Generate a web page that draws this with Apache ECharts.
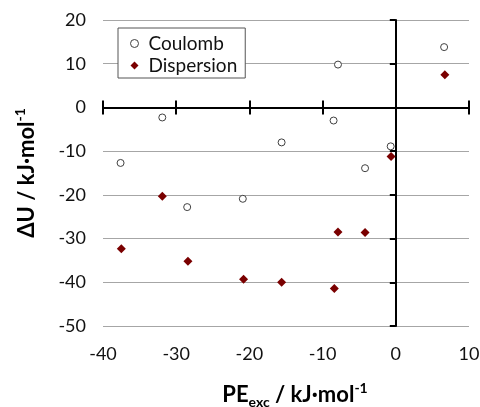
<!DOCTYPE html>
<html>
<head>
<meta charset="utf-8">
<script src="https://cdn.jsdelivr.net/npm/echarts@6/dist/echarts.min.js"></script>
<style>
  html, body { margin: 0; padding: 0; background: #fff; }
  #main { width: 480px; height: 407px; }
</style>
</head>
<body>
<div id="main"></div>
<script>
// PE_exc (x) and ΔU (y)
var coulombX = [-37.6, -31.9, -28.5, -20.9, -15.6, -8.5, -7.9, -4.2, -0.7, 6.6];
var coulombY = [-12.7, -2.3, -22.8, -20.9, -8.0, -3.0, 9.8, -13.9, -8.9, 13.8];
var dispersionX = [-37.5, -31.9, -28.4, -20.8, -15.6, -8.4, -7.9, -4.2, -0.65, 6.7];
var dispersionY = [-32.3, -20.3, -35.2, -39.3, -40.0, -41.4, -28.5, -28.6, -11.2, 7.5];

var xMin = -40, xMax = 10, yMin = -50, yMax = 20, step = 10;
var font = 'Lato';

function pairs(xs, ys) {
    return xs.map(function (x, i) { return [x, ys[i]] })
}

var chart = echarts.init(document.getElementById('main'))

// axis drawn through the origin, without labels (two of them give crossing ticks)
function zeroX(tickInside) {
    return {
        type: 'value', min: xMin, max: xMax, interval: step,
        axisLine: { show: true, onZero: true, onZeroAxisIndex: 0, lineStyle: { color: '#000', width: 2 } },
        axisTick: { show: true, interval: 0, inside: tickInside, length: 7, lineStyle: { color: '#000', width: 2 } },
        axisLabel: { show: false, interval: 0 },
        splitLine: { show: false }
    }
}

var option = {
    animation: false,
    backgroundColor: '#fff',
    grid: { left: 103, right: 11, top: 20, bottom: 81, outerBoundsMode: 'none' },
    legend: {
        orient: 'vertical',
        left: 118,
        top: 28,
        padding: [6, 8, 3, 12],
        itemGap: 3,
        itemWidth: 8,
        itemHeight: 8,
        backgroundColor: '#fff',
        borderColor: '#555',
        borderWidth: 1,
        borderRadius: 0,
        textStyle: { fontFamily: font, fontSize: 19, color: '#111', padding: [0, 0, 0, 5] },
        data: [
            { name: 'Coulomb', icon: 'circle', itemStyle: { color: '#fff', borderColor: '#404040', borderWidth: 1 } },
            { name: 'Dispersion', icon: 'diamond', itemStyle: { color: '#7a0000' } }
        ]
    },
    xAxis: [
        {
            type: 'value', min: xMin, max: xMax, interval: step,
            position: 'bottom',
            axisLine: { show: false, onZero: false },
            axisTick: { show: false },
            axisLabel: { fontFamily: font, fontSize: 18, color: '#111', margin: 19 },
            splitLine: { show: false },
            name: '{a|PE}{b|exc}{a| / kJ·mol}{s|-1}',
            nameLocation: 'middle',
            nameGap: 55,
            nameTextStyle: {
                padding: [0, 0, 0, 18],
                rich: {
                    a: { fontFamily: font, fontSize: 22, fontWeight: 'bold', color: '#000', lineHeight: 28 },
                    b: { fontFamily: font, fontSize: 14, fontWeight: 'bold', color: '#000', verticalAlign: 'bottom' },
                    s: { fontFamily: font, fontSize: 14, fontWeight: 'bold', color: '#000', verticalAlign: 'top' }
                }
            }
        },
        zeroX(true),
        zeroX(false)
    ],
    yAxis: [
        {
            type: 'value', min: yMin, max: yMax, interval: step,
            position: 'left',
            axisLine: { show: false, onZero: false },
            axisTick: { show: false },
            axisLabel: { fontFamily: font, fontSize: 18, color: '#111', margin: 17 },
            splitLine: { show: true, lineStyle: { color: '#a6a6a6', width: 1 } },
            name: '{a|ΔU / kJ·mol}{s|-1}',
            nameLocation: 'middle',
            nameRotate: 90,
            nameGap: 62,
            nameTextStyle: {
                rich: {
                    a: { fontFamily: font, fontSize: 22, fontWeight: 'bold', color: '#000', lineHeight: 28 },
                    s: { fontFamily: font, fontSize: 14, fontWeight: 'bold', color: '#000', verticalAlign: 'top' }
                }
            }
        },
        {
            type: 'value', min: yMin, max: yMax, interval: step,
            position: 'left',
            axisLine: { show: true, onZero: true, onZeroAxisIndex: 0, lineStyle: { color: '#000', width: 2 } },
            axisTick: { show: true, interval: 0, inside: false, length: 6, lineStyle: { color: '#000', width: 2 } },
            axisLabel: { show: false, interval: 0 },
            splitLine: { show: false }
        }
    ],
    series: [
        {
            name: 'Coulomb',
            type: 'scatter',
            xAxisIndex: 0, yAxisIndex: 0,
            symbol: 'circle',
            symbolSize: 7,
            itemStyle: { color: '#fff', borderColor: '#404040', borderWidth: 1, opacity: 1 },
            data: pairs(coulombX, coulombY),
            z: 5
        },
        {
            name: 'Dispersion',
            type: 'scatter',
            xAxisIndex: 0, yAxisIndex: 0,
            symbol: 'diamond',
            symbolSize: 9,
            itemStyle: { color: '#7a0000', opacity: 1 },
            data: pairs(dispersionX, dispersionY),
            z: 6
        }
    ]
}

chart.setOption(option)
</script>
</body>
</html>
